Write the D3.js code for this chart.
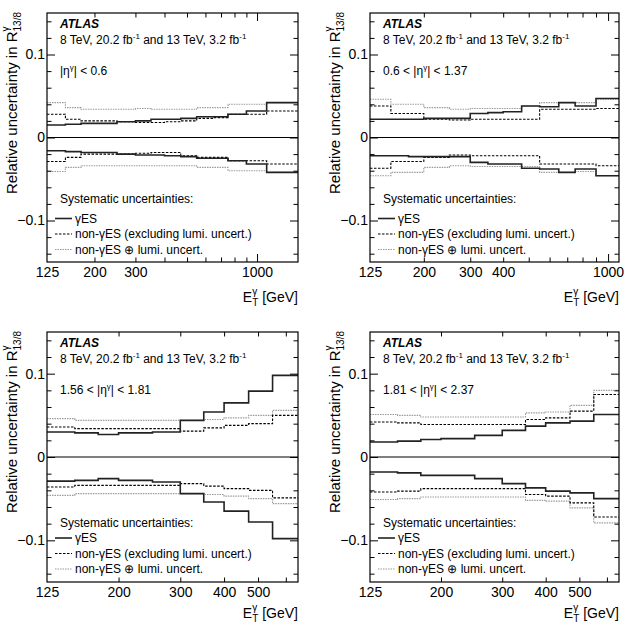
<!DOCTYPE html>
<html>
<head>
<meta charset="utf-8">
<script src="https://cdn.jsdelivr.net/npm/d3@7/dist/d3.min.js"></script>
<style>
body { margin: 0; background: #fff; }
svg { font-family: "Liberation Sans", Arial, Helvetica, sans-serif; }
.tick text { font-size: 14px; fill: #000; }
</style>
</head>
<body>
<div id="vis"></div>
<script>
// bin edges in E_T (GeV)
const edges14 = [125, 150, 175, 200, 250, 300, 350, 400, 470, 550, 650, 750, 900, 1100, 1500];
const edges13 = [125, 150, 175, 200, 250, 300, 350, 400, 470, 550, 650, 750, 900, 1100];
const edges10 = [125, 150, 175, 200, 250, 300, 350, 400, 470, 550, 650];

// |eta| < 0.6
const esUp1   = [0.015, 0.016, 0.017, 0.017, 0.019, 0.020, 0.022, 0.022, 0.023, 0.025, 0.025, 0.028, 0.032, 0.042];
const esDn1   = [-0.016, -0.017, -0.018, -0.018, -0.020, -0.021, -0.021, -0.022, -0.023, -0.025, -0.025, -0.028, -0.032, -0.042];
const nonUp1  = [0.028, 0.022, 0.020, 0.020, 0.019, 0.018, 0.018, 0.019, 0.020, 0.023, 0.024, 0.028, 0.028, 0.032];
const nonDn1  = [-0.029, -0.024, -0.020, -0.020, -0.020, -0.019, -0.018, -0.018, -0.022, -0.024, -0.024, -0.028, -0.028, -0.032];
const lumiUp1 = [0.042, 0.036, 0.034, 0.034, 0.034, 0.035, 0.034, 0.034, 0.034, 0.036, 0.036, 0.040, 0.040, 0.042];
const lumiDn1 = [-0.041, -0.036, -0.034, -0.034, -0.034, -0.034, -0.034, -0.034, -0.034, -0.036, -0.036, -0.040, -0.040, -0.042];

// 0.6 < |eta| < 1.37
const esUp2   = [0.022, 0.022, 0.022, 0.023, 0.023, 0.029, 0.030, 0.031, 0.038, 0.037, 0.042, 0.038, 0.047];
const esDn2   = [-0.022, -0.022, -0.023, -0.023, -0.023, -0.030, -0.032, -0.032, -0.037, -0.038, -0.042, -0.038, -0.046];
const nonUp2  = [0.038, 0.029, 0.029, 0.022, 0.021, 0.022, 0.022, 0.022, 0.022, 0.034, 0.034, 0.034, 0.035];
const nonDn2  = [-0.037, -0.029, -0.029, -0.024, -0.021, -0.022, -0.022, -0.022, -0.022, -0.032, -0.032, -0.032, -0.034];
const lumiUp2 = [0.046, 0.040, 0.040, 0.036, 0.034, 0.035, 0.035, 0.035, 0.038, 0.042, 0.042, 0.042, 0.046];
const lumiDn2 = [-0.046, -0.042, -0.042, -0.036, -0.034, -0.035, -0.035, -0.035, -0.035, -0.042, -0.042, -0.041, -0.046];

// 1.56 < |eta| < 1.81
const esUp3   = [0.030, 0.029, 0.027, 0.029, 0.030, 0.044, 0.054, 0.065, 0.079, 0.098];
const esDn3   = [-0.029, -0.028, -0.026, -0.028, -0.030, -0.044, -0.054, -0.065, -0.078, -0.098];
const nonUp3  = [0.036, 0.034, 0.034, 0.034, 0.034, 0.031, 0.035, 0.038, 0.040, 0.050];
const nonDn3  = [-0.036, -0.034, -0.034, -0.034, -0.034, -0.032, -0.035, -0.038, -0.040, -0.049];
const lumiUp3 = [0.046, 0.044, 0.044, 0.044, 0.044, 0.044, 0.045, 0.047, 0.050, 0.056];
const lumiDn3 = [-0.046, -0.044, -0.044, -0.044, -0.044, -0.044, -0.045, -0.047, -0.050, -0.056];

// 1.81 < |eta| < 2.37
const esUp4   = [0.018, 0.019, 0.021, 0.022, 0.026, 0.032, 0.037, 0.041, 0.043, 0.051];
const esDn4   = [-0.018, -0.019, -0.022, -0.022, -0.026, -0.032, -0.037, -0.041, -0.043, -0.050];
const nonUp4  = [0.042, 0.041, 0.039, 0.039, 0.039, 0.039, 0.045, 0.047, 0.055, 0.075];
const nonDn4  = [-0.042, -0.041, -0.038, -0.038, -0.038, -0.038, -0.045, -0.047, -0.055, -0.072];
const lumiUp4 = [0.051, 0.050, 0.048, 0.048, 0.048, 0.048, 0.053, 0.054, 0.062, 0.080];
const lumiDn4 = [-0.051, -0.050, -0.048, -0.048, -0.048, -0.048, -0.052, -0.053, -0.061, -0.079];

// axis ticks
const yMajor = [-0.1, 0, 0.1];
const yMinor = [-0.14, -0.12, -0.08, -0.06, -0.04, -0.02, 0.02, 0.04, 0.06, 0.08, 0.12, 0.14];
const xMinor = [200, 300, 400, 500, 600, 700, 800, 900];
const xMajor = [1000];
const xLabels1 = [125, 200, 300, 1000];
const xLabels2 = [125, 200, 300, 400, 1000];
const xLabels3 = [125, 200, 300, 400, 500];
const etaTexts = [['', '| < 0.6'], ['0.6 < ', '| < 1.37'], ['1.56 < ', '| < 1.81'], ['1.81 < ', '| < 2.37']];

const panels = [
  { left: 47,  top: 13,  w: 251, h: 249, xMax: 1500, edges: edges14, labels: xLabels1, es: [esUp1, esDn1], non: [nonUp1, nonDn1], lumi: [lumiUp1, lumiDn1], eta: etaTexts[0], titleDy: 40, legDy: 190 },
  { left: 370, top: 13,  w: 249, h: 249, xMax: 1100, edges: edges13, labels: xLabels2, es: [esUp2, esDn2], non: [nonUp2, nonDn2], lumi: [lumiUp2, lumiDn2], eta: etaTexts[1], titleDy: 40, legDy: 190 },
  { left: 47,  top: 332, w: 251, h: 250, xMax: 650,  edges: edges10, labels: xLabels3, es: [esUp3, esDn3], non: [nonUp3, nonDn3], lumi: [lumiUp3, lumiDn3], eta: etaTexts[2], titleDy: 36, legDy: 195 },
  { left: 370, top: 332, w: 249, h: 250, xMax: 650,  edges: edges10, labels: xLabels3, es: [esUp4, esDn4], non: [nonUp4, nonDn4], lumi: [lumiUp4, lumiDn4], eta: etaTexts[3], titleDy: 36, legDy: 195 }
];

const styles = {
  es:   { stroke: '#222', width: 1.6, dash: null },
  non:  { stroke: '#000', width: 1.1, dash: '2.5,1.5' },
  lumi: { stroke: '#9a9a9a', width: 1.1, dash: '1.5,1' }
};

const svg = d3.select('#vis').append('svg')
  .attr('width', 625)
  .attr('height', 630);

panels.forEach(p => drawPanel(p));

function drawPanel(p) {
  const g = svg.append('g');
  const bottom = p.top + p.h, right = p.left + p.w;

  const x = d3.scaleLog().domain([125, p.xMax]).range([p.left, right]);
  const y = d3.scaleLinear().domain([-0.15, 0.15]).range([bottom, p.top]);

  // zero line
  g.append('line')
    .attr('x1', p.left).attr('x2', right)
    .attr('y1', y(0)).attr('y2', y(0))
    .attr('stroke', '#000').attr('stroke-width', 1.2);

  // step histograms
  const line = d3.line().x(d => x(d[0])).y(d => y(d[1]));
  const steps = vals => {
    const pts = [];
    vals.forEach((v, i) => { pts.push([p.edges[i], v]); pts.push([p.edges[i + 1], v]); });
    return pts;
  };
  ['lumi', 'non', 'es'].forEach(key => {
    p[key].forEach(vals => {
      g.append('path')
        .attr('d', line(steps(vals)))
        .attr('fill', 'none')
        .attr('stroke', styles[key].stroke)
        .attr('stroke-width', styles[key].width)
        .attr('stroke-dasharray', styles[key].dash);
    });
  });

  // axes: ticks drawn inside the frame, ROOT style
  const noLab = () => '';
  const addAxis = (axis, tx, ty) => {
    const a = g.append('g').attr('transform', `translate(${tx},${ty})`).call(axis);
    a.select('.domain').remove();
    a.selectAll('line').attr('stroke', '#000');
    return a;
  };
  const minors = xMinor.filter(v => v < p.xMax);
  const majors = xMajor.filter(v => v < p.xMax);
  addAxis(d3.axisBottom(x).tickValues(minors).tickSize(-4.5).tickFormat(noLab), 0, bottom);
  addAxis(d3.axisTop(x).tickValues(minors).tickSize(-4.5).tickFormat(noLab), 0, p.top);
  addAxis(d3.axisBottom(x).tickValues(majors).tickSize(-8).tickFormat(noLab), 0, bottom);
  addAxis(d3.axisTop(x).tickValues(majors).tickSize(-8).tickFormat(noLab), 0, p.top);
  const xl = addAxis(d3.axisBottom(x).tickValues(p.labels).tickSize(0).tickPadding(5).tickFormat(d3.format('d')), 0, bottom);
  xl.selectAll('line').remove();
  xl.selectAll('text').style('font-size', '14px');

  addAxis(d3.axisLeft(y).tickValues(yMinor).tickSize(-4.5).tickFormat(noLab), p.left, 0);
  addAxis(d3.axisRight(y).tickValues(yMinor).tickSize(-4.5).tickFormat(noLab), right, 0);
  addAxis(d3.axisRight(y).tickValues(yMajor).tickSize(-8).tickFormat(noLab), right, 0);
  const yl = addAxis(d3.axisLeft(y).tickValues(yMajor).tickSize(-8).tickPadding(2)
    .tickFormat(d => d === 0 ? '0' : (d < 0 ? '\u22120.1' : '0.1')), p.left, 0);
  yl.selectAll('text').style('font-size', '14px');

  // frame
  g.append('rect')
    .attr('x', p.left).attr('y', p.top)
    .attr('width', p.w).attr('height', p.h)
    .attr('fill', 'none').attr('stroke', '#000').attr('stroke-width', 1.2);

  // axis titles
  const xt = g.append('text')
    .attr('x', right).attr('y', bottom + p.titleDy)
    .attr('text-anchor', 'end')
    .style('font-size', '14px');
  xt.append('tspan').text('E');
  xt.append('tspan').attr('dy', 4).style('font-size', '10px').text('T');
  xt.append('tspan').attr('dx', -6).attr('dy', -11).style('font-size', '10px').text('\u03b3');
  xt.append('tspan').attr('dx', 1).attr('dy', 7).text(' [GeV]');

  const yt = g.append('text')
    .attr('transform', `translate(${p.left - 30},${p.top - 1}) rotate(-90)`)
    .attr('text-anchor', 'end')
    .style('font-size', '15px');
  yt.append('tspan').text('Relative uncertainty in R');
  yt.append('tspan').attr('dy', -8).style('font-size', '10px').text('\u03b3');
  yt.append('tspan').attr('dx', -5).attr('dy', 12).style('font-size', '10px').text('13/8');

  // labels
  const tx = p.left + 13;
  g.append('text').attr('x', tx).attr('y', p.top + 14.5)
    .style('font-size', '12px').style('font-weight', 'bold').style('font-style', 'italic')
    .text('ATLAS');
  const lum = g.append('text').attr('x', tx).attr('y', p.top + 31).style('font-size', '12px');
  lum.append('tspan').text('8 TeV, 20.2 fb');
  lum.append('tspan').attr('dy', -5).style('font-size', '8px').text('-1');
  lum.append('tspan').attr('dy', 5).text(' and 13 TeV, 3.2 fb');
  lum.append('tspan').attr('dy', -5).style('font-size', '8px').text('-1');

  const eta = g.append('text').attr('x', tx).attr('y', p.top + 62).style('font-size', '12px');
  eta.append('tspan').text(p.eta[0] + '|\u03b7');
  eta.append('tspan').attr('dy', -5).style('font-size', '8px').text('\u03b3');
  eta.append('tspan').attr('dy', 5).text(p.eta[1]);

  // legend
  g.append('text').attr('x', tx).attr('y', p.top + p.legDy)
    .style('font-size', '12px').text('Systematic uncertainties:');
  const legItems = [
    ['es', '\u03b3ES'],
    ['non', 'non-\u03b3ES (excluding lumi. uncert.)'],
    ['lumi', 'non-\u03b3ES \u2295 lumi. uncert.']
  ];
  legItems.forEach((it, i) => {
    const ly = y(0) + 81 + i * 15.5;
    g.append('line')
      .attr('x1', p.left + 8).attr('x2', p.left + 25)
      .attr('y1', ly).attr('y2', ly)
      .attr('stroke', styles[it[0]].stroke)
      .attr('stroke-width', styles[it[0]].width)
      .attr('stroke-dasharray', styles[it[0]].dash);
    g.append('text').attr('x', p.left + 28).attr('y', ly + 4)
      .style('font-size', '12px').text(it[1]);
  });
}
</script>
</body>
</html>
